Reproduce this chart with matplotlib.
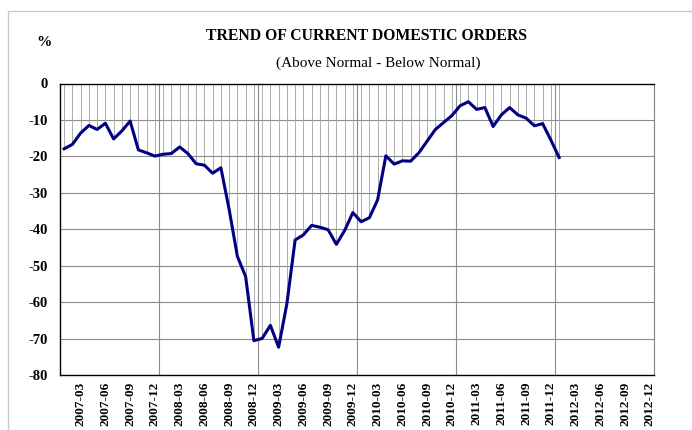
# Libraries ----------------------------------------

import matplotlib
matplotlib.use("Agg")
import matplotlib.pyplot as plt
from matplotlib.patches import Rectangle

plt.rcParams['font.family'] = ['Liberation Serif', 'DejaVu Serif']

# Data ----------------------------------------

# monthly survey balance, 2007-01 .. 2012-01
months = [f"{y}-{m:02d}" for y in range(2007, 2013) for m in range(1, 13)]
orders = [-17.9, -16.7, -13.6, -11.5, -12.6, -10.9, -15.2, -13.0, -10.3, -18.2, -19.0, -19.9,
          -19.4, -19.2, -17.4, -19.2, -22.0, -22.4, -24.6, -23.1, -34.5, -47.4, -52.9, -70.5,
          -69.9, -66.3, -72.3, -60.4, -42.9, -41.5, -38.9, -39.4, -40.1, -44.1, -40.3, -35.4,
          -37.9, -36.8, -31.9, -19.8, -22.1, -21.2, -21.3, -19.0, -15.8, -12.6, -10.7, -8.8,
          -6.1, -5.0, -7.1, -6.6, -11.8, -8.6, -6.6, -8.6, -9.5, -11.6, -11.0, -15.5,
          -20.3]
tick_labels = [m for m in months if m[-2:] in ("03", "06", "09", "12")]
y_ticks = [0, -10, -20, -30, -40, -50, -60, -70, -80]

# Plot ----------------------------------------

fig = plt.figure(figsize=(6.92, 4.30), dpi=100)
ax = fig.add_axes([60 / 692, 54.7 / 430, 594 / 692, 291.8 / 430])

# outer chart frame
fig.patches.append(Rectangle((8 / 692, -0.1), 1.2, 1.1 - 11 / 430,
                             transform=fig.transFigure, fill=False,
                             edgecolor="#c8c8c8", linewidth=1.0))

x = list(range(len(orders)))
ax.vlines(x, orders, 0, colors="#a0a0a0", linewidth=0.6, zorder=1)
ax.plot(x, orders, color="#000080", linewidth=2.2, zorder=3)

ax.set_xlim(-0.5, len(months) - 0.5)
ax.set_ylim(-80, 0)

for yv in y_ticks[1:-1]:
    ax.axhline(yv, color="#8c8c8c", linewidth=0.8, zorder=0)
for k in range(12, len(months), 12):
    ax.axvline(k - 0.5, color="#8c8c8c", linewidth=0.8, zorder=0)

ax.set_yticks(y_ticks)
ax.set_yticklabels([str(v) for v in y_ticks], fontsize=10.5, fontweight="bold")
ax.set_xticks([months.index(t) for t in tick_labels])
ax.set_xticklabels(tick_labels, rotation=90, fontsize=9.5, fontweight="bold",
                   va="top", ha="center")
ax.tick_params(axis="both", length=0)
ax.tick_params(axis="y", pad=9)
ax.tick_params(axis="x", pad=4.5)

for side in ("left", "bottom", "top"):
    ax.spines[side].set_color("black")
    ax.spines[side].set_linewidth(1.0)
ax.spines["right"].set_color("#808080")

fig.text(367 / 692, 1 - 36 / 430, "TREND OF CURRENT DOMESTIC ORDERS", ha="center",
         va="center", fontsize=11.3, fontweight="bold")
fig.text(378 / 692, 1 - 63 / 430, "(Above Normal - Below Normal)", ha="center",
         va="center", fontsize=11)
fig.text(44 / 692, 1 - 42 / 430, "%", ha="center", va="center", fontsize=11,
         fontweight="bold")

# Save ----------------------------------------

fig.savefig("out.png", dpi=100)
